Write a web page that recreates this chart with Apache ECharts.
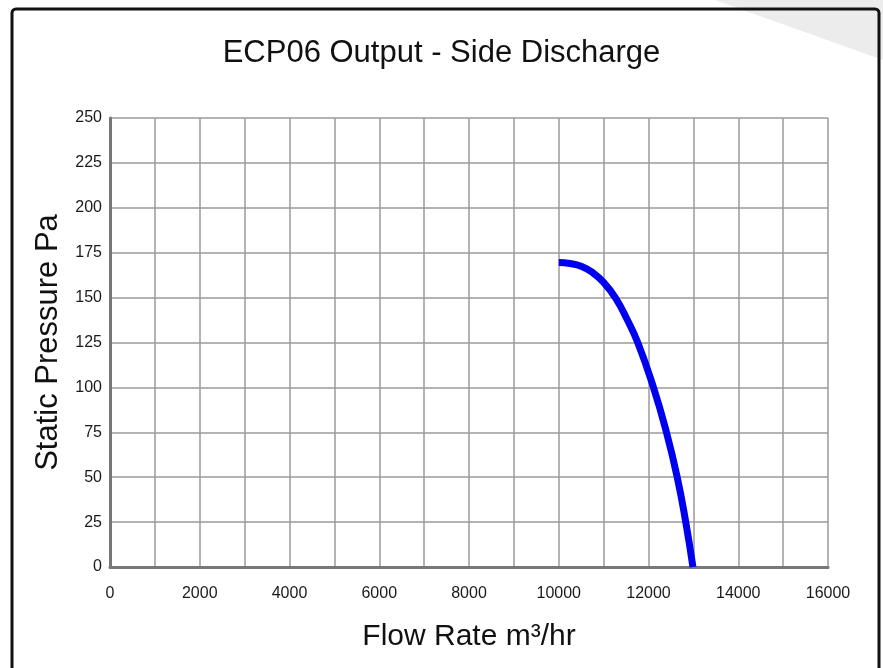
<!DOCTYPE html>
<html>
<head>
<meta charset="utf-8">
<script src="https://cdn.jsdelivr.net/npm/echarts@6/dist/echarts.min.js"></script>
<style>html,body{margin:0;padding:0;background:#fff;}#c{width:883px;height:668px;}</style>
</head>
<body>
<div id="c"></div>
<script>
const chartTitle = 'ECP06 Output - Side Discharge';
const xName = 'Flow Rate m³/hr';
const yName = 'Static Pressure Pa';
const flowRate = [10000, 10250, 10500, 10750, 11000, 11260, 11510, 11760, 12110, 12400, 12640, 12830, 12990];
const pressure = [169.5, 169, 167.5, 164, 158.5, 150, 138.5, 125, 100, 75, 50, 25, 0];

const chart = echarts.init(document.getElementById('c'));
const font = '"Liberation Sans", Arial, sans-serif';
chart.setOption({
  animation: false,
  backgroundColor: '#fff',
  graphic: [
    { type: 'polygon', shape: { points: [[715, 0], [883, 0], [883, 60]] }, style: { fill: '#ececec' }, z: -10 },
    { type: 'rect', shape: { x: 12, y: 9, width: 867, height: 680, r: 4 }, style: { fill: 'none', stroke: '#111', lineWidth: 3 }, z: 10 }
  ],
  title: {
    text: chartTitle, left: 'center', top: 33,
    textStyle: { fontFamily: font, fontSize: 31, fontWeight: 'normal', color: '#111' }
  },
  grid: { left: 110, right: 55, top: 118, bottom: 101, containLabel: false },
  xAxis: {
    type: 'value', min: 0, max: 16000, interval: 1000,
    name: xName, nameLocation: 'middle', nameGap: 55,
    nameTextStyle: { fontFamily: font, fontSize: 30, color: '#111' },
    axisLine: { show: true, lineStyle: { color: '#777', width: 3 } },
    axisTick: { show: false },
    axisLabel: { margin: 19, fontFamily: font, fontSize: 16, color: '#1a1a1a',
      formatter: v => (v % 2000 === 0 ? String(v) : '') },
    splitLine: { show: true, lineStyle: { color: '#9a9a9a', width: 1.5 } }
  },
  yAxis: {
    type: 'value', min: 0, max: 250, interval: 25,
    name: yName, nameLocation: 'middle', nameGap: 44, nameRotate: 90,
    nameTextStyle: { fontFamily: font, fontSize: 31, color: '#111' },
    axisLine: { show: true, lineStyle: { color: '#777', width: 3 } },
    axisTick: { show: false },
    axisLabel: { margin: 8, fontFamily: font, fontSize: 16, color: '#1a1a1a' },
    splitLine: { show: true, lineStyle: { color: '#9a9a9a', width: 1.5 } }
  },
  series: [{
    type: 'line', smooth: 0.5, symbol: 'none',
    data: flowRate.map((x, i) => [x, pressure[i]]),
    lineStyle: { color: '#0000ee', width: 7, cap: 'butt' }
  }]
});
</script>
</body>
</html>
